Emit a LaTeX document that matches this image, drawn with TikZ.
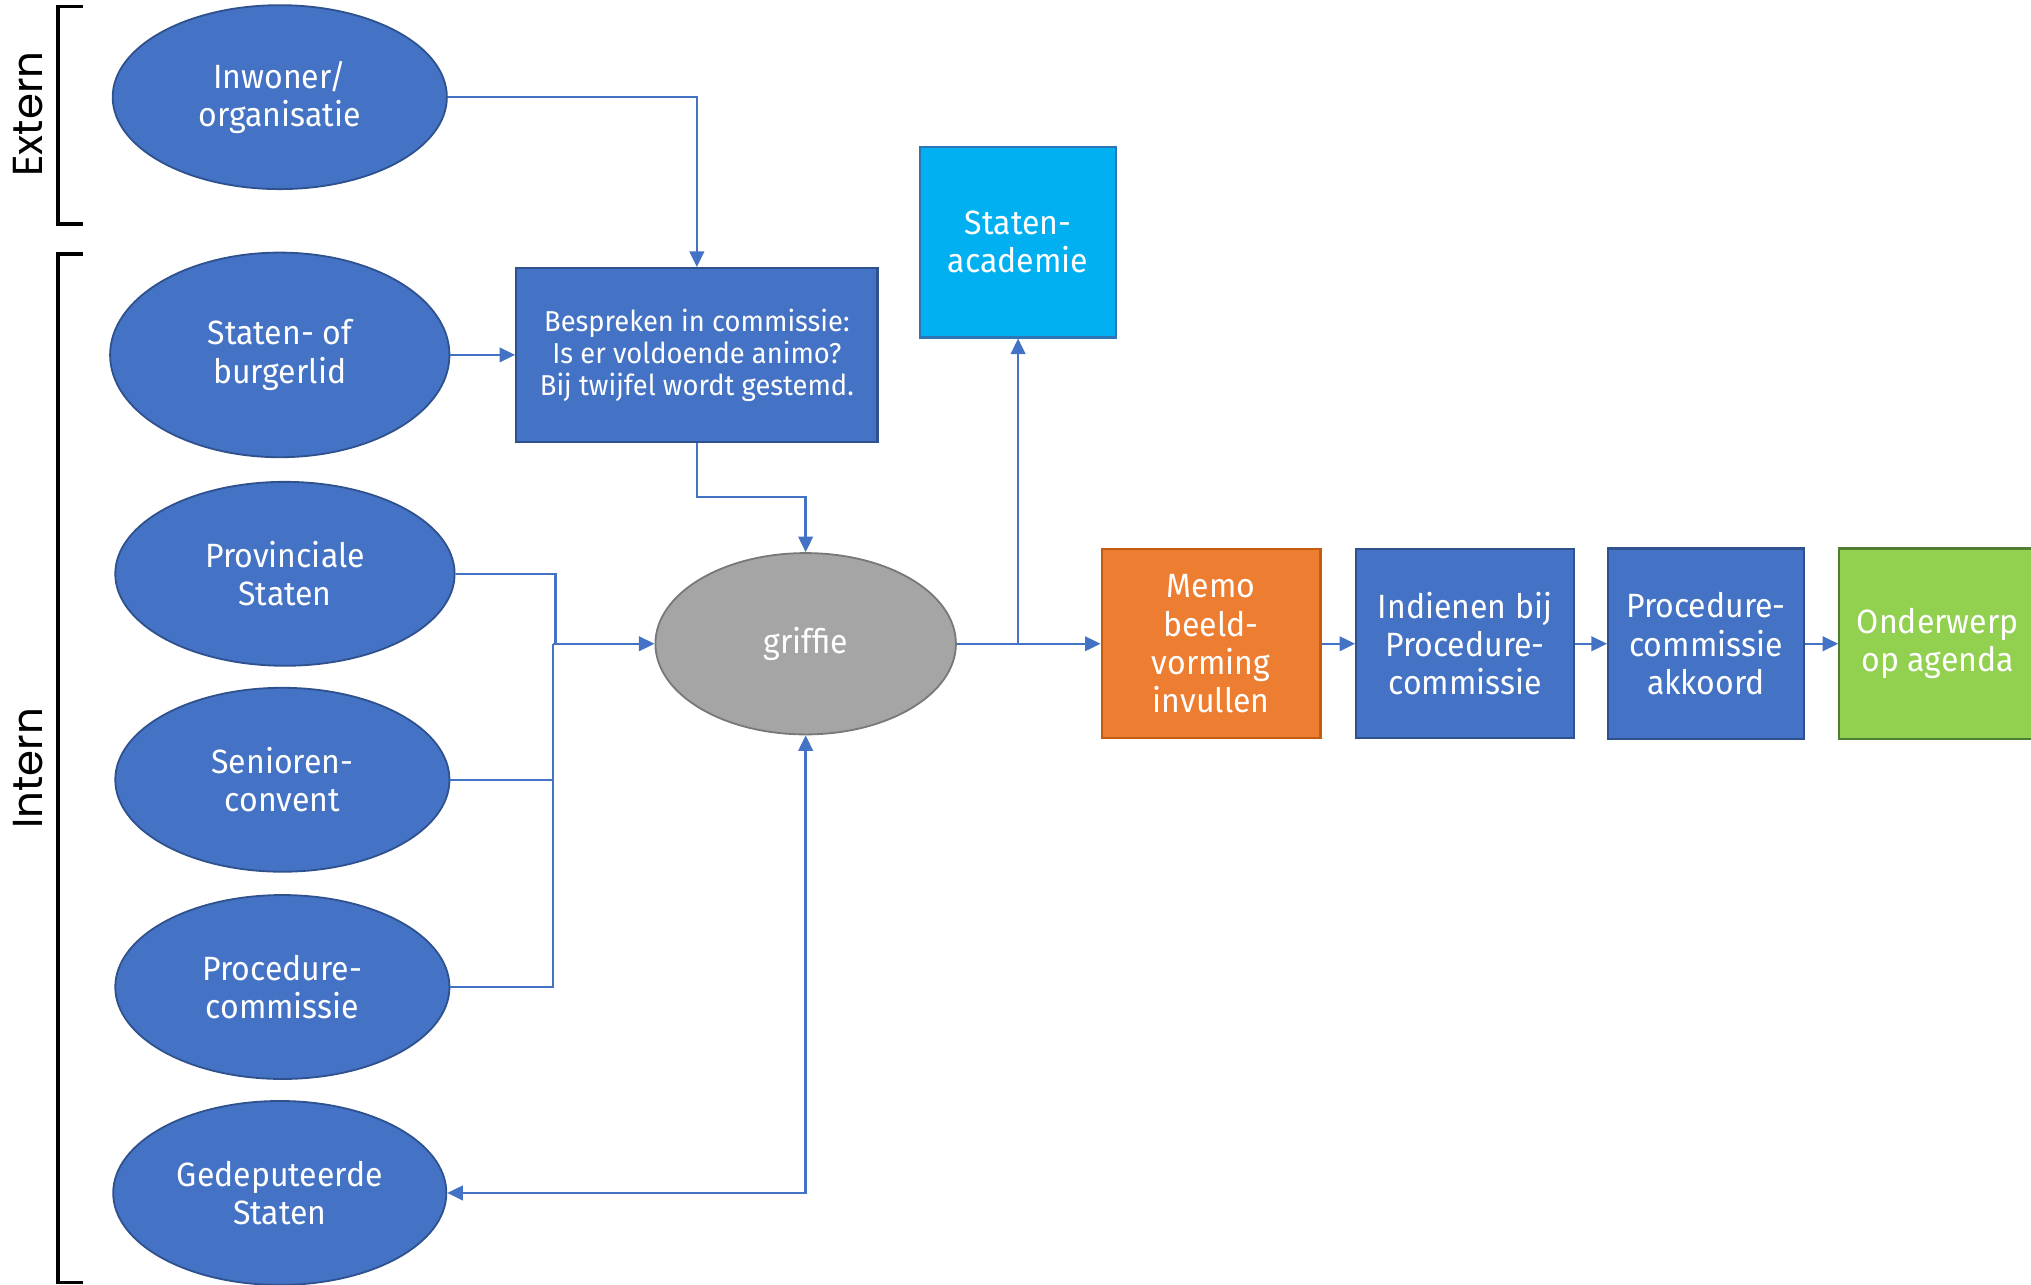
\documentclass[tikz,border=0pt]{standalone}
\usepackage{fontspec}
\setmainfont{Fira Sans}[FakeStretch=0.95]
\newfontfamily\sidefont{Poppins}
\usetikzlibrary{shapes.geometric,arrows.meta,positioning}
\definecolor{blueF}{HTML}{4472C4}
\definecolor{blueD}{HTML}{2F528F}
\definecolor{grayF}{HTML}{A5A5A5}
\definecolor{grayD}{HTML}{787878}
\definecolor{orangeF}{HTML}{ED7D31}
\definecolor{orangeD}{HTML}{C55A11}
\definecolor{greenF}{HTML}{92D050}
\definecolor{greenD}{HTML}{507E32}
\definecolor{cyanF}{HTML}{00B0F0}
\definecolor{cyanD}{HTML}{2E75B6}
\tikzset{
  ent/.style={ellipse,draw=blueD,fill=blueF,line width=1pt,inner sep=0pt,text=white,align=center,font=\fontsize{18.5}{21}\selectfont},
  box/.style={rectangle,draw=blueD,fill=blueF,line width=1.2pt,inner sep=0pt,text=white,align=center,minimum width=4.2cm,minimum height=3.65cm,font=\fontsize{18.5}{21}\selectfont},
  link/.style={draw=blueF,line width=1.3pt},
  flow/.style={link,-{Triangle[length=0.3cm,width=0.28cm]}},
  brack/.style={draw=black,line width=2pt},
  side/.style={text=black,rotate=90,font=\sidefont\fontsize{23}{27}\selectfont}
}
\begin{document}
\begin{tikzpicture}
\useasboundingbox (0,0) rectangle (39.2,-24.8);
% groups
\draw[brack] (1.6,-0.125) -- (1.125,-0.125) -- (1.125,-4.325) -- (1.6,-4.325);
\draw[brack] (1.6,-4.9) -- (1.125,-4.9) -- (1.125,-24.75) -- (1.6,-24.75);
\node[side] (lext) at (0.55,-2.2) {Extern};
\node[side] (lint) at (0.55,-14.825) {Intern};
% senders
\node[ent,minimum width=6.45cm,minimum height=3.55cm] (inw) at (5.4,-1.875) {Inwoner/\\organisatie};
\foreach \nm/\kx/\ky/\kw/\kh/\lb in {stat/5.4/6.85/6.55/3.95/{Staten- of\\burgerlid},prov/5.5/11.075/6.55/3.55/{Provinciale\\Staten},sen/5.45/15.05/6.45/3.55/{Senioren-\\convent},pcom/5.45/19.05/6.45/3.55/{Procedure-\\commissie},ged/5.4/23.025/6.43/3.55/{Gedeputeerde\\Staten}}{\node[ent,minimum width=\kw cm,minimum height=\kh cm] (\nm) at (\kx,-\ky) {\lb};}
\node[box,minimum width=6.975cm,minimum height=3.35cm,font=\fontsize{15.8}{17.6}\selectfont] (besp) at (13.45,-6.85) {Bespreken in commissie:\\Is er voldoende animo?\\Bij twijfel wordt gestemd.};
\node[ent,draw=grayD,fill=grayF,minimum width=5.8cm,minimum height=3.5cm] (grif) at (15.55,-12.425) {griffie};
\node[box,draw=cyanD,fill=cyanF,minimum width=3.775cm,minimum height=3.675cm] (acad) at (19.65,-4.675) {Staten-\\academie};
% chain
\node[box,draw=orangeD,fill=orangeF,minimum width=4.225cm] (memo) at (23.375,-12.425) {Memo\\beeld-\\vorming\\invullen};
\node[box] (ind) at (28.275,-12.425) {Indienen bij\\Procedure-\\commissie};
\node[box,minimum width=3.775cm,minimum height=3.675cm] (akk) at (32.925,-12.425) {Procedure-\\commissie\\akkoord};
\node[box,draw=greenD,fill=greenF,minimum width=3.8cm,minimum height=3.675cm] (ond) at (37.4,-12.425) {Onderwerp\\op agenda};
% connectors
\coordinate (jn) at (10.675,-12.425);
\coordinate (br) at (19.65,-12.425);
\draw[flow] (inw.east) -| (besp.north);
\draw[flow] (stat.east) -- (besp.west);
\draw[flow] (besp.south) -- ++(0,-1.05) -| (grif.north);
\draw[link] (prov.east) -| ([xshift=0.05cm]jn);
\draw[link] (sen.east) -| (jn);
\draw[link] (pcom.east) -| (jn);
\draw[flow] (jn) -- (grif.west);
\draw[flow] (grif.east) -- (memo.west);
\draw[flow] (br) -- (acad.south);
\draw[flow,{Triangle[length=0.3cm,width=0.28cm]}-{Triangle[length=0.3cm,width=0.28cm]}] (grif.south) |- (ged.east);
\draw[flow] (memo.east) -- (ind.west);
\draw[flow] (ind.east) -- (akk.west);
\draw[flow] (akk.east) -- (ond.west);
\end{tikzpicture}
\end{document}
